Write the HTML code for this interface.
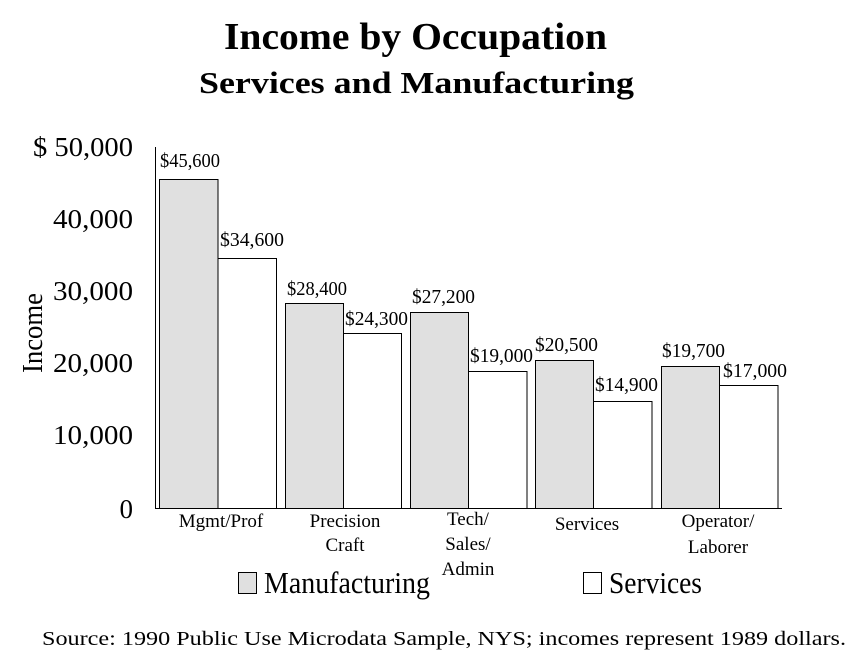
<!DOCTYPE html>
<html><head><style>body{margin:0;background:#fff}</style></head><body>
<svg width="856" height="662" xmlns="http://www.w3.org/2000/svg" font-family="Liberation Serif, serif" fill="#000">
<text x="224" y="49" font-size="38" font-weight="bold" textLength="383" lengthAdjust="spacingAndGlyphs">Income by Occupation</text>
<text x="199" y="93" font-size="31" font-weight="bold" textLength="435" lengthAdjust="spacingAndGlyphs">Services and Manufacturing</text>
<g font-size="27" text-anchor="end">
<text x="133" y="156" textLength="100" lengthAdjust="spacingAndGlyphs">$ 50,000</text>
<text x="133" y="228" textLength="80" lengthAdjust="spacingAndGlyphs">40,000</text>
<text x="133" y="300" textLength="80" lengthAdjust="spacingAndGlyphs">30,000</text>
<text x="133" y="372" textLength="80" lengthAdjust="spacingAndGlyphs">20,000</text>
<text x="133" y="444" textLength="80" lengthAdjust="spacingAndGlyphs">10,000</text>
<text x="133" y="518">0</text>
</g>
<text transform="translate(42,333) rotate(-90)" font-size="29" text-anchor="middle" textLength="80" lengthAdjust="spacingAndGlyphs">Income</text>
<line x1="155.5" y1="147" x2="155.5" y2="509" stroke="#000"/>
<line x1="155" y1="508.5" x2="782" y2="508.5" stroke="#000"/>
<g stroke="#000" stroke-width="1">
<rect x="159.5" y="179.5" width="58.5" height="329" fill="#e0e0e0"/>
<rect x="218" y="258.5" width="58.5" height="250" fill="#fff"/>
<rect x="285.5" y="303.5" width="58" height="205" fill="#e0e0e0"/>
<rect x="343.5" y="333.5" width="58" height="175" fill="#fff"/>
<rect x="410.5" y="312.5" width="58" height="196" fill="#e0e0e0"/>
<rect x="468.5" y="371.5" width="58.5" height="137" fill="#fff"/>
<rect x="535.5" y="360.5" width="58" height="148" fill="#e0e0e0"/>
<rect x="593.5" y="401.5" width="58.5" height="107" fill="#fff"/>
<rect x="661.5" y="366.5" width="58" height="142" fill="#e0e0e0"/>
<rect x="719.5" y="385.5" width="58.5" height="123" fill="#fff"/>
</g>
<g font-size="20">
<text x="160" y="167" textLength="60" lengthAdjust="spacingAndGlyphs">$45,600</text>
<text x="220" y="246" textLength="64" lengthAdjust="spacingAndGlyphs">$34,600</text>
<text x="287" y="295" textLength="60" lengthAdjust="spacingAndGlyphs">$28,400</text>
<text x="345" y="325" textLength="63" lengthAdjust="spacingAndGlyphs">$24,300</text>
<text x="412" y="303" textLength="63" lengthAdjust="spacingAndGlyphs">$27,200</text>
<text x="470" y="362" textLength="63" lengthAdjust="spacingAndGlyphs">$19,000</text>
<text x="535" y="351" textLength="63" lengthAdjust="spacingAndGlyphs">$20,500</text>
<text x="595" y="391" textLength="63" lengthAdjust="spacingAndGlyphs">$14,900</text>
<text x="662" y="357" textLength="63" lengthAdjust="spacingAndGlyphs">$19,700</text>
<text x="723" y="377" textLength="64" lengthAdjust="spacingAndGlyphs">$17,000</text>
</g>
<g font-size="19" text-anchor="middle">
<text x="221" y="527">Mgmt/Prof</text>
<text x="345" y="527">Precision</text>
<text x="345" y="551">Craft</text>
<text x="468" y="525">Tech/</text>
<text x="468" y="550">Sales/</text>
<text x="468" y="575">Admin</text>
<text x="587" y="530">Services</text>
<text x="718" y="527">Operator/</text>
<text x="718" y="553">Laborer</text>
</g>
<rect x="238.5" y="572.5" width="18" height="21" fill="#e0e0e0" stroke="#000"/>
<text x="264" y="593" font-size="31" textLength="166" lengthAdjust="spacingAndGlyphs">Manufacturing</text>
<rect x="583.5" y="572.5" width="18" height="21" fill="#fff" stroke="#000"/>
<text x="609" y="593" font-size="31" textLength="93" lengthAdjust="spacingAndGlyphs">Services</text>
<text x="42" y="645" font-size="20" textLength="804" lengthAdjust="spacingAndGlyphs">Source:  1990 Public Use Microdata Sample, NYS; incomes represent 1989 dollars.</text>
</svg>
</body></html>
